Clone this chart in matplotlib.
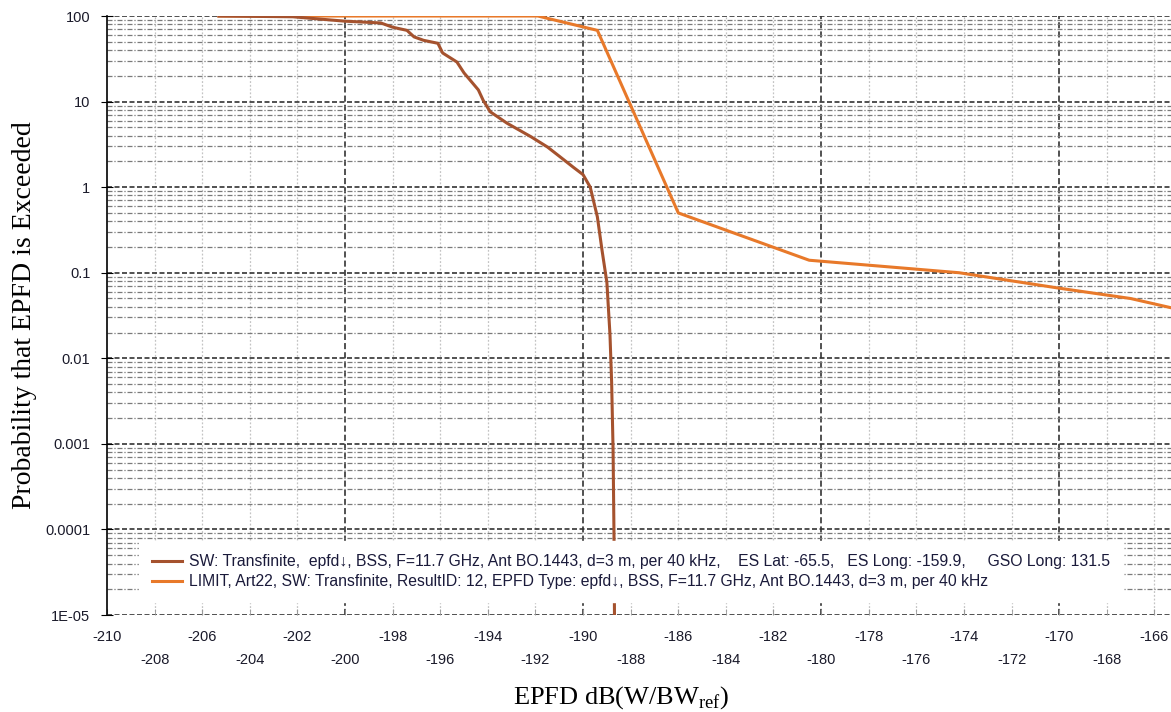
import numpy as np
import matplotlib.pyplot as plt
from matplotlib.ticker import FixedLocator, FixedFormatter, NullFormatter

# SW: Transfinite curve (EPFD dB, % probability exceeded)
sw_epfd = [-205.3, -202.2, -200.0, -198.5, -198.0, -197.4, -197.1, -196.7, -196.1,
           -195.9, -195.3, -195.0, -194.4, -194.2, -193.9, -193.2, -192.2, -191.5,
           -191.0, -190.4, -190.0, -189.7, -189.4, -189.2, -189.0, -188.87, -188.8,
           -188.74, -188.7, -188.66]
sw_prob = [100, 98, 87, 83, 74, 68, 57, 52, 48, 37, 29, 21.6, 13.7, 10.4, 7.6, 5.6,
           3.9, 2.95, 2.3, 1.7, 1.4, 1.0, 0.45, 0.18, 0.077, 0.019, 0.0052, 0.00086,
           0.00008, 0.000001]

# Art22 limit mask
lim_epfd = [-205.3, -191.9, -189.4, -186.0, -180.5, -174.2, -170.0, -167.0, -165.3]
lim_prob = [100, 100, 68, 0.5, 0.14, 0.1, 0.066, 0.05, 0.039]

sw_label = ("SW: Transfinite,  epfd\u2193, BSS, F=11.7 GHz, Ant BO.1443, d=3 m, per 40 kHz,"
            "    ES Lat: -65.5,   ES Long: -159.9,     GSO Long: 131.5")
lim_label = ("LIMIT, Art22, SW: Transfinite, ResultID: 12, EPFD Type: epfd\u2193, BSS, "
             "F=11.7 GHz, Ant BO.1443, d=3 m, per 40 kHz")

y_ticks = [100, 10, 1, 0.1, 0.01, 0.001, 0.0001, 0.00001]
y_labels = ["100", "10", "1", "0.1", "0.01", "0.001", "0.0001", "1E-05"]
x_ticks_top = [-210, -206, -202, -198, -194, -190, -186, -182, -178, -174, -170, -166]
x_ticks_low = [-208, -204, -200, -196, -192, -188, -184, -180, -176, -172, -168]


def main():
    plt.rcParams['font.family'] = ['Liberation Sans', 'DejaVu Sans']
    plt.rcParams['mathtext.fontset'] = 'custom'
    plt.rcParams['mathtext.rm'] = 'Liberation Serif'
    fig = plt.figure(figsize=(11.71, 7.12), dpi=100)
    ax = fig.add_axes([0.0914, 0.1362, 0.9086, 0.8413])

    ax.set_yscale('log')
    ax.set_xlim(-210, -165.3)
    ax.set_ylim(1e-5, 100)

    # grid
    for v in [-200, -190, -180, -170]:
        ax.axvline(v, color='#222222', lw=1.1, ls=(0, (4, 2)), zorder=1)
    for v in sorted(x_ticks_top + x_ticks_low):
        if v % 10 != 0:
            ax.axvline(v, color='#c4c4c4', lw=0.9, ls=(0, (1.5, 1.5)), zorder=1)
    for d in range(-5, 2):
        for m in range(2, 10):
            ax.axhline(m * 10.0 ** d, color='#7a7a7a', lw=0.9,
                       ls=(0, (4, 1.5, 1, 1.5)), zorder=1)
    for v in y_ticks:
        ax.axhline(v, color='#333333', lw=1.2, ls=(0, (3, 1.5)), zorder=1)

    ax.plot(lim_epfd, lim_prob, color='#E8792A', lw=2.2, label=lim_label, zorder=3)
    ax.plot(sw_epfd, sw_prob, color='#A5522E', lw=2.2, label=sw_label, zorder=4)

    ax.yaxis.set_major_locator(FixedLocator(y_ticks))
    ax.yaxis.set_major_formatter(FixedFormatter(y_labels))
    ax.yaxis.set_minor_formatter(NullFormatter())
    ax.tick_params(axis='y', which='minor', length=0)
    ax.tick_params(axis='y', which='major', direction='inout', length=8, labelsize=10.5,
                   labelcolor='#1a1a2a', pad=8)

    ax.xaxis.set_major_locator(FixedLocator(x_ticks_top))
    ax.xaxis.set_major_formatter(FixedFormatter([str(v) for v in x_ticks_top]))
    ax.xaxis.set_minor_locator(FixedLocator(x_ticks_low))
    ax.xaxis.set_minor_formatter(FixedFormatter([str(v) for v in x_ticks_low]))
    ax.tick_params(axis='x', which='major', direction='in', length=4, labelsize=10.5,
                   labelcolor='#1a1a2a', color='#999999', pad=10.8)
    ax.tick_params(axis='x', which='minor', direction='in', length=4, labelsize=10.5,
                   labelcolor='#1a1a2a', color='#999999', pad=27.4)

    for s in ['top', 'right', 'bottom']:
        ax.spines[s].set_visible(False)
    ax.spines['left'].set_linewidth(1.2)

    handles, labels = ax.get_legend_handles_labels()
    leg = ax.legend(handles[::-1], labels[::-1], loc='lower left',
                    bbox_to_anchor=(0.0224, 0.008), frameon=True, fancybox=False,
                    edgecolor='white', framealpha=1, fontsize=11.3,
                    handlelength=1.9, handletextpad=0.5, labelspacing=0.33,
                    borderpad=0.83)
    for t in leg.get_texts():
        t.set_color('#1a1a3a')

    ax.set_ylabel('Probability that EPFD is Exceeded', family='Liberation Serif',
                  fontsize=20, va='center')
    ax.yaxis.set_label_coords(-0.078, 0.5)
    ax.set_xlabel(r'EPFD dB(W/BW$_{\mathrm{ref}}$)', family='Liberation Serif',
                  fontsize=19, va='center')
    ax.xaxis.set_label_coords(0.483, -0.137)

    fig.savefig('out.png', dpi=100)


if __name__ == "__main__":
    main()
